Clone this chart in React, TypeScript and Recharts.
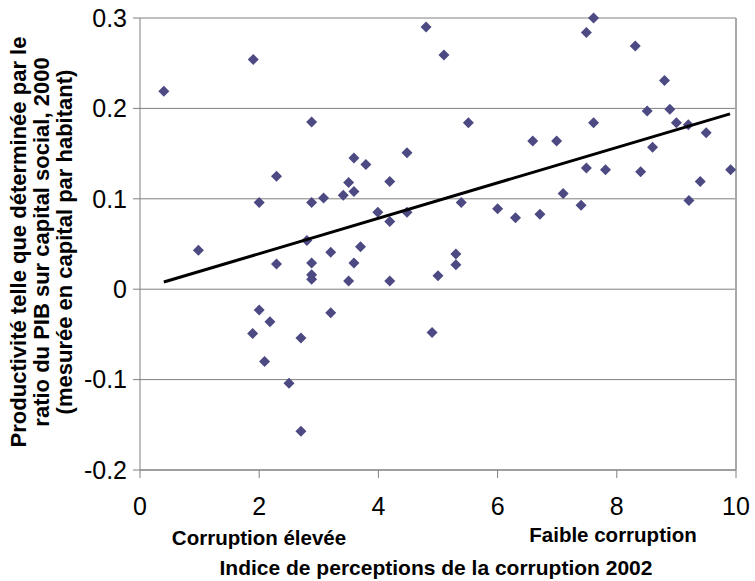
import React from "react";
import {
  ScatterChart,
  Scatter,
  XAxis,
  YAxis,
  CartesianGrid,
  ReferenceLine,
} from "recharts";

// corruption perception index 2002 (x) vs productivity (y)
const cpiScores = [
  0.4, 0.98, 1.89, 1.9, 2.0, 2.0, 2.09, 2.18, 2.29, 2.29, 2.5, 2.7, 2.7, 2.8,
  2.88, 2.88, 2.88, 2.88, 2.88, 3.08, 3.2, 3.2, 3.41, 3.5, 3.5, 3.59, 3.59,
  3.59, 3.7, 3.79, 3.99, 4.19, 4.19, 4.19, 4.48, 4.48, 4.8, 4.9, 5.0, 5.1, 5.3,
  5.3, 5.39, 5.51, 6.0, 6.3, 6.59, 6.71, 6.99, 7.1, 7.4, 7.49, 7.49, 7.61,
  7.61, 7.81, 8.31, 8.4, 8.51, 8.6, 8.8, 8.89, 9.0, 9.2, 9.21, 9.4, 9.5, 9.91,
];
const productivity = [
  0.219, 0.043, -0.049, 0.254, 0.096, -0.023, -0.08, -0.036, 0.125, 0.028,
  -0.104, -0.054, -0.157, 0.054, 0.185, 0.096, 0.029, 0.016, 0.011, 0.101,
  0.041, -0.026, 0.104, 0.118, 0.009, 0.145, 0.108, 0.029, 0.047, 0.138, 0.085,
  0.119, 0.075, 0.009, 0.151, 0.085, 0.29, -0.048, 0.015, 0.259, 0.039, 0.027,
  0.096, 0.184, 0.089, 0.079, 0.164, 0.083, 0.164, 0.106, 0.093, 0.284, 0.134,
  0.3, 0.184, 0.132, 0.269, 0.13, 0.197, 0.157, 0.231, 0.199, 0.184, 0.182,
  0.098, 0.119, 0.173, 0.132,
];

// linear trend end points
const trendX = [0.4, 9.9];
const trendY = [0.008, 0.194];

const xTicks = [0, 2, 4, 6, 8, 10];
const yTicks = [-0.2, -0.1, 0, 0.1, 0.2, 0.3];

const points = cpiScores.map((x, i) => ({ x, y: productivity[i] }));
const trend = trendX.map((x, i) => ({ x, y: trendY[i] }));

const FONT = '"Liberation Sans", Arial, sans-serif';
const GRAY = "#808080";

const Diamond = (props: any) => {
  const { cx, cy } = props;
  const r = 5.5;
  return (
    <path
      d={`M${cx},${cy - r}L${cx + r},${cy}L${cx},${cy + r}L${cx - r},${cy}Z`}
      fill="#4c4983"
    />
  );
};

const fmtY = (v: number) => (v === 0 ? "0" : String(Number(v.toFixed(1))));

export default function App() {
  return (
    <div style={{ position: "relative", width: 755, height: 581, fontFamily: FONT }}>
      <style>{`body{margin:0}`}</style>
      <ScatterChart
        width={755}
        height={581}
        margin={{ top: 18, right: 19, bottom: 0, left: 0 }}
      >
        <CartesianGrid vertical={false} stroke={GRAY} horizontalValues={yTicks} />
        <XAxis
          type="number"
          dataKey="x"
          domain={[0, 10]}
          ticks={xTicks}
          height={111}
          stroke={GRAY}
          tickSize={8}
          tickMargin={19}
          tick={{ fill: "#000", fontSize: 25, fontFamily: FONT }}
        />
        <YAxis
          type="number"
          dataKey="y"
          domain={[-0.2, 0.3]}
          ticks={yTicks}
          width={140}
          stroke={GRAY}
          tickSize={7}
          tickMargin={6}
          tickFormatter={fmtY}
          tick={{ fill: "#000", fontSize: 25, fontFamily: FONT }}
        />
        <ReferenceLine x={10} stroke="#a8a8a8" strokeWidth={2} />
        <Scatter data={points} shape={Diamond} isAnimationActive={false} />
        <Scatter
          data={trend}
          line={{ stroke: "#000", strokeWidth: 3 }}
          shape={() => <g />}
          isAnimationActive={false}
        />
      </ScatterChart>
      <svg
        width={755}
        height={581}
        style={{ position: "absolute", left: 0, top: 0, pointerEvents: "none" }}
        fontFamily={FONT}
        fontWeight="bold"
      >
        <text x={259} y={545} textAnchor="middle" fontSize={20.5}>
          Corruption élevée
        </text>
        <text x={613} y={542} textAnchor="middle" fontSize={20.5}>
          Faible corruption
        </text>
        <text x={436} y={575} textAnchor="middle" fontSize={21}>
          Indice de perceptions de la corruption 2002
        </text>
        <g transform="translate(0,242) rotate(-90)" textAnchor="middle" fontSize={22}>
          <text x={0} y={26}>Productivité telle que déterminée par le</text>
          <text x={0} y={49}>ratio du PIB sur capital social, 2000</text>
          <text x={0} y={72}>(mesurée en capital par habitant)</text>
        </g>
      </svg>
    </div>
  );
}
